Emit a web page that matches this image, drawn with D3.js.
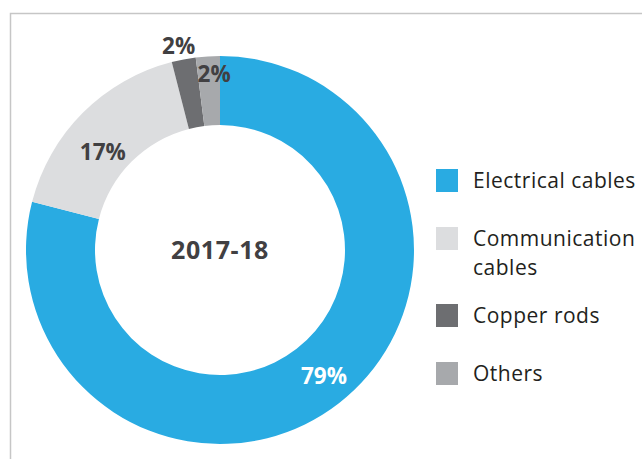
<!DOCTYPE html>
<html>
<head>
<meta charset="utf-8">
<script src="https://cdn.jsdelivr.net/npm/d3@7"></script>
<style>
  html, body { margin: 0; padding: 0; background: #fff; }
  svg { display: block; }
</style>
</head>
<body>
<svg id="chart" width="642" height="459"></svg>
<script>
const categories = ["Electrical cables", "Communication cables", "Copper rods", "Others"];
const legendLines = [["Electrical cables"], ["Communication", "cables"], ["Copper rods"], ["Others"]];
const values = [79, 17, 2, 2];
const valueLabels = ["79%", "17%", "2%", "2%"];
const colors = ["#29abe2", "#dcdddf", "#6d6e71", "#a7a9ac"];
const centerTitle = "2017-18";

const svg = d3.select("#chart");

// frame
svg.append("path")
  .attr("d", "M10.5,459 L10.5,13.5 L642,13.5")
  .attr("fill", "none")
  .attr("stroke", "#c6c6c6")
  .attr("stroke-width", 1.5);

const cx = 220, cy = 250, outerR = 194, innerR = 125;
const g = svg.append("g").attr("transform", `translate(${cx},${cy})`);

const pie = d3.pie().sort(null).value(d => d);
const arcs = pie(values);
const arc = d3.arc().innerRadius(innerR).outerRadius(outerR);

g.selectAll("path.slice")
  .data(arcs)
  .enter().append("path")
  .attr("class", "slice")
  .attr("d", arc)
  .attr("fill", (d, i) => colors[i]);

// label placement: radius and small nudges by slice role
function labelR(i) {
  if (i === 2) return outerR + 16;     // small slice label outside
  if (i === 3) return outerR - 20;
  return (innerR + outerR) / 2 + 2;
}
const nudge = [[5, -2], [-3, 16], [-2, 2], [5, -2]];
g.selectAll("text.val")
  .data(arcs)
  .enter().append("text")
  .attr("class", "val")
  .attr("transform", (d, i) => {
    const r = labelR(i);
    const c = d3.arc().innerRadius(r).outerRadius(r).centroid(d);
    return `translate(${c[0] + nudge[i][0]},${c[1] + nudge[i][1]})`;
  })
  .attr("text-anchor", "middle")
  .attr("dy", "0.36em")
  .attr("font-family", "'Open Sans', sans-serif")
  .attr("font-weight", 700)
  .attr("font-size", 22.5)
  .attr("fill", (d, i) => i === 0 ? "#ffffff" : "#414042")
  .text((d, i) => valueLabels[i]);

g.append("text")
  .attr("text-anchor", "middle")
  .attr("dy", "0.36em")
  .attr("font-family", "'Open Sans', sans-serif")
  .attr("font-weight", 700)
  .attr("font-size", 25)
  .attr("letter-spacing", 0.6)
  .attr("fill", "#414042")
  .text(centerTitle);

// legend
const leg = svg.append("g");
const items = leg.selectAll("g.item")
  .data(categories)
  .enter().append("g")
  .attr("class", "item")
  .attr("transform", (d, i) => {
    const ys = [169, 227, 304, 362];
    return `translate(436,${ys[i]})`;
  });
items.append("rect")
  .attr("width", 22).attr("height", 23)
  .attr("fill", (d, i) => colors[i]);
items.each(function(d, i) {
  const t = d3.select(this).append("text")
    .attr("x", 37).attr("y", 19)
    .attr("font-family", "'Open Sans', sans-serif")
    .attr("font-size", 21)
    .attr("letter-spacing", 0.5)
    .attr("fill", "#231f20");
  legendLines[i].forEach((line, j) => {
    t.append("tspan").attr("x", 37).attr("dy", j === 0 ? 0 : 29).text(line);
  });
});
</script>
</body>
</html>
